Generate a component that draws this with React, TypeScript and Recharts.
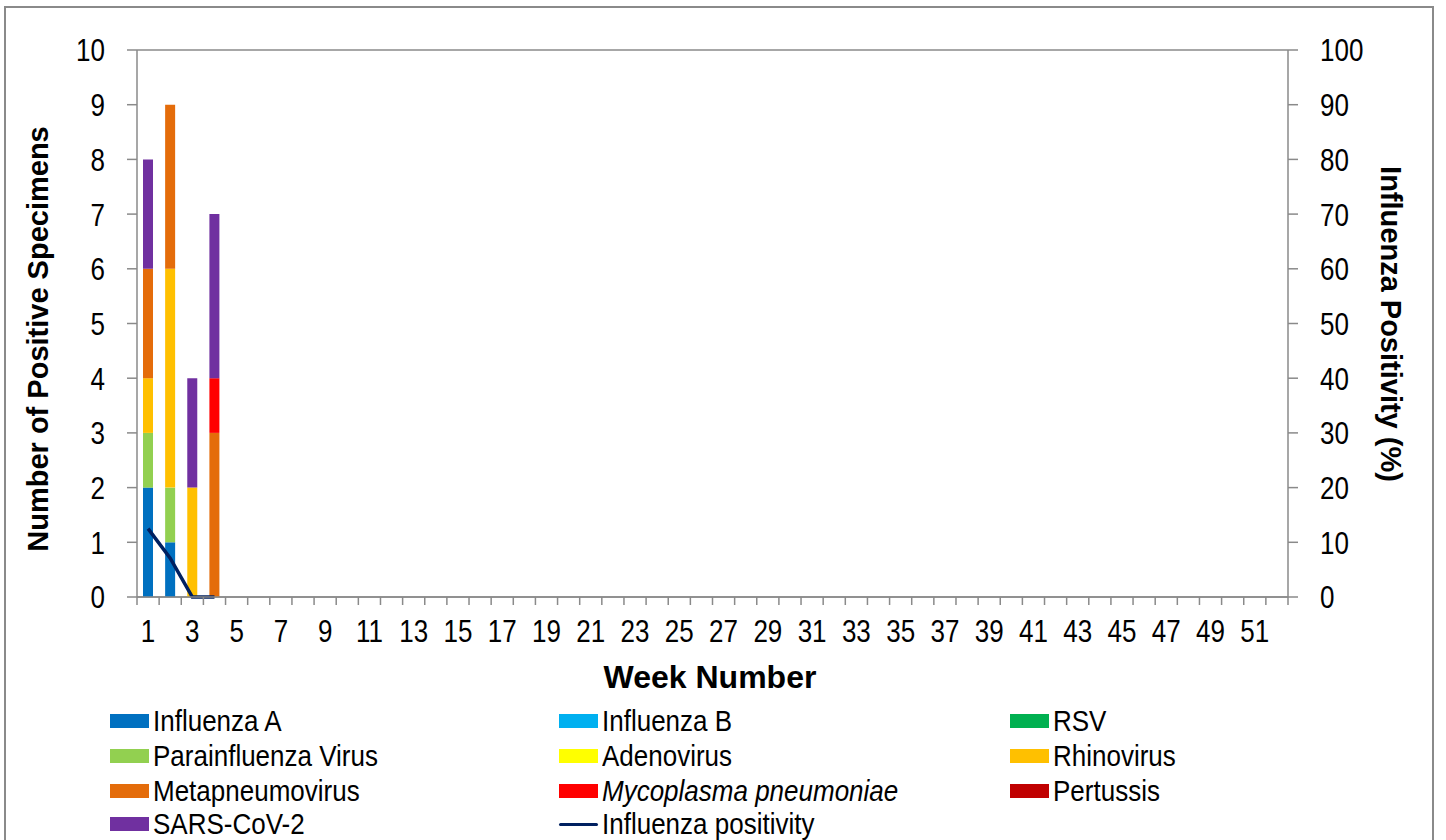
import { ComposedChart, Bar, Line, XAxis, YAxis, CartesianGrid } from 'recharts';

// week categories on the x axis
const weeks = [
  1, 2, 3, 4, 5, 6, 7, 8, 9, 10, 11, 12, 13, 14, 15, 16, 17, 18, 19, 20, 21, 22, 23, 24, 25, 26,
  27, 28, 29, 30, 31, 32, 33, 34, 35, 36, 37, 38, 39, 40, 41, 42, 43, 44, 45, 46, 47, 48, 49, 50, 51, 52,
];

// positive specimens, weeks 1-4 (no data reported after week 4)
const influenzaA = [2, 1, 0, 0];
const influenzaB = [0, 0, 0, 0];
const rsv = [0, 0, 0, 0];
const parainfluenza = [1, 1, 0, 0];
const adenovirus = [0, 0, 0, 0];
const rhinovirus = [1, 4, 2, 0];
const metapneumovirus = [2, 3, 0, 3];
const mycoplasma = [0, 0, 0, 1];
const pertussis = [0, 0, 0, 0];
const sarsCov2 = [2, 0, 2, 3];

// influenza positivity (%)
const positivity = [12.5, 7.1, 0, 0];

const leftTicks = [0, 1, 2, 3, 4, 5, 6, 7, 8, 9, 10];
const rightTicks = [0, 10, 20, 30, 40, 50, 60, 70, 80, 90, 100];

const series = [
  { key: 'infA', name: 'Influenza A', values: influenzaA, color: '#0070C0' },
  { key: 'infB', name: 'Influenza B', values: influenzaB, color: '#00B0F0' },
  { key: 'rsv', name: 'RSV', values: rsv, color: '#00B050' },
  { key: 'para', name: 'Parainfluenza Virus', values: parainfluenza, color: '#92D050' },
  { key: 'adeno', name: 'Adenovirus', values: adenovirus, color: '#FFFF00' },
  { key: 'rhino', name: 'Rhinovirus', values: rhinovirus, color: '#FFC000' },
  { key: 'metap', name: 'Metapneumovirus', values: metapneumovirus, color: '#E46C0A' },
  { key: 'myco', name: 'Mycoplasma pneumoniae', values: mycoplasma, color: '#FF0000', italic: true },
  { key: 'pert', name: 'Pertussis', values: pertussis, color: '#C00000' },
  { key: 'sars', name: 'SARS-CoV-2', values: sarsCov2, color: '#7030A0' },
];

const lineColor = '#002060';
const grey = '#8a8a8a';
const font = '"Liberation Sans", Arial, sans-serif';

const data = weeks.map((w, i) => {
  const row: Record<string, number | null> = { week: w };
  series.forEach((s) => {
    row[s.key] = i < s.values.length ? s.values[i] : null;
  });
  row.positivity = i < positivity.length ? positivity[i] : null;
  return row;
});

const WeekTick = (props: any) => {
  const { x, y, payload } = props;
  const half = payload.offset ?? 11.07;
  const value = Number(payload.value);
  return (
    <g>
      <line x1={x - half} x2={x - half} y1={y - 8} y2={y} stroke={grey} strokeWidth={1.5} />
      {value === weeks[weeks.length - 1] && (
        <line x1={x + half} x2={x + half} y1={y - 8} y2={y} stroke={grey} strokeWidth={1.5} />
      )}
      {value % 2 === 1 && (
        <text transform={`translate(${x},${y}) scale(1,1.2)`} y={31} textAnchor="middle" fontSize={26} fontFamily={font} fill="#000">
          {value}
        </text>
      )}
    </g>
  );
};

const makeYTick = (anchor: 'start' | 'end') => (props: any) => {
  const { x, y, payload } = props;
  return (
    <text transform={`translate(${x},${y}) scale(1,1.2)`} y={9.5} textAnchor={anchor} fontSize={26} fontFamily={font} fill="#000">
      {payload.value}
    </text>
  );
};
const LeftTick = makeYTick('end');
const RightTick = makeYTick('start');

const legendColumns = [110, 559, 1010];
const legendRows = [721, 756, 791, 824];

export default function App() {
  const legendItems = [
    ...series.map((s) => ({ name: s.name, color: s.color, italic: !!s.italic, line: false })),
    { name: 'Influenza positivity', color: lineColor, italic: false, line: true },
  ];

  return (
    <div style={{ position: 'relative', width: 1446, height: 840, background: '#fff', fontFamily: font }}>
      <style>{'body{margin:0;overflow:hidden;}'}</style>
      <div
        style={{
          position: 'absolute',
          left: 4,
          top: 6,
          width: 1430,
          height: 900,
          border: `2px solid ${grey}`,
          boxSizing: 'border-box',
        }}
      />
      <div style={{ position: 'absolute', left: 0, top: 0 }}>
        <ComposedChart width={1446} height={700} data={data} margin={{ top: 50, right: 0, left: 0, bottom: 0 }} barSize={10}>
          <CartesianGrid vertical={false} stroke={grey} strokeWidth={1.5} />
          <XAxis
            dataKey="week"
            interval={0}
            height={103}
            tickSize={8}
            tickMargin={0}
            tickLine={false}
            tick={<WeekTick />}
            axisLine={{ stroke: grey, strokeWidth: 1.5 }}
          />
          <YAxis
            yAxisId="count"
            width={137}
            domain={[0, 10]}
            ticks={leftTicks}
            interval={0}
            tickSize={10}
            tickMargin={22}
            tickLine={{ stroke: grey, strokeWidth: 1.5 }}
            axisLine={{ stroke: grey, strokeWidth: 1.5 }}
            tick={<LeftTick />}
          />
          <YAxis
            yAxisId="pct"
            orientation="right"
            width={158}
            domain={[0, 100]}
            ticks={rightTicks}
            interval={0}
            tickSize={10}
            tickMargin={22}
            tickLine={{ stroke: grey, strokeWidth: 1.5 }}
            axisLine={{ stroke: grey, strokeWidth: 1.5 }}
            tick={<RightTick />}
          />
          {series.map((s) => (
            <Bar key={s.key} yAxisId="count" dataKey={s.key} name={s.name} stackId="a" fill={s.color} isAnimationActive={false} />
          ))}
          <Line
            yAxisId="pct"
            dataKey="positivity"
            name="Influenza positivity"
            stroke={lineColor}
            strokeWidth={3.5}
            dot={false}
            type="linear"
            isAnimationActive={false}
          />
        </ComposedChart>
      </div>

      <div
        style={{
          position: 'absolute',
          left: 38,
          top: 339,
          transform: 'translate(-50%, -50%) rotate(-90deg)',
          whiteSpace: 'nowrap',
          fontSize: 29,
          fontWeight: 'bold',
        }}
      >
        Number of Positive Specimens
      </div>
      <div
        style={{
          position: 'absolute',
          left: 1390,
          top: 324,
          transform: 'translate(-50%, -50%) rotate(90deg)',
          whiteSpace: 'nowrap',
          fontSize: 29,
          fontWeight: 'bold',
        }}
      >
        Influenza Positivity (%)
      </div>
      <div
        style={{
          position: 'absolute',
          left: 710,
          top: 677,
          transform: 'translate(-50%, -50%)',
          whiteSpace: 'nowrap',
          fontSize: 32,
          fontWeight: 'bold',
        }}
      >
        Week Number
      </div>

      {legendItems.map((item, i) => {
        const left = legendColumns[i % 3];
        const top = legendRows[Math.floor(i / 3)];
        return (
          <div key={item.name} style={{ position: 'absolute', left, top, transform: 'translateY(-50%)', display: 'flex', alignItems: 'center', whiteSpace: 'nowrap' }}>
            {item.line ? (
              <div style={{ width: 39, height: 3, background: item.color, borderRadius: 2 }} />
            ) : (
              <div style={{ width: 39, height: 14, background: item.color }} />
            )}
            <span style={{ marginLeft: 4, fontSize: 26, fontStyle: item.italic ? 'italic' : 'normal', display: 'inline-block', transform: 'scaleY(1.1)', lineHeight: '30px' }}>
              {item.name}
            </span>
          </div>
        );
      })}
    </div>
  );
}
